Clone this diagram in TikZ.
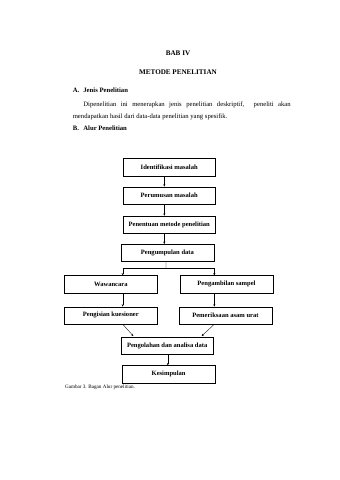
\documentclass[tikz,border=0pt]{standalone}
\usepackage{fontspec}
\setmainfont{Liberation Serif}
\usetikzlibrary{arrows.meta}
\begin{document}
\begin{tikzpicture}[x=1.756pt,y=-1.756pt,
  box/.style={draw,line width=0.6pt,minimum width=163pt,minimum height=30.5pt,inner sep=0pt,
    font=\fontsize{11.5}{13}\selectfont\bfseries},
  arr/.style={line width=0.6pt,-{Stealth[length=4pt,width=3.5pt]}},
  ln/.style={line width=0.6pt},
  body/.style={inner sep=0pt,font=\fontsize{11.7}{13}\selectfont},
  head/.style={inner sep=0pt,font=\fontsize{12.5}{14}\selectfont\bfseries},
  subhead/.style={inner sep=0pt,font=\fontsize{11.7}{13}\selectfont\bfseries}]
\useasboundingbox[fill=white] (0,0) rectangle (339,480);
% headings
\node[head] (bab) at (178,53.3) {BAB IV};
\node[head] (met) at (178,71.7) {METODE PENELITIAN};
\node[subhead,anchor=west] (a) at (72.7,90.7) {A.};
\node[subhead,anchor=west] (at) at (83.3,90.7) {Jenis Penelitian};
\node[body,anchor=west] (p1) at (83.3,105.3) {\makebox[364pt][s]{Dipenelitian ini menerapkan jenis penelitian deskriptif, \ peneliti akan}};
\node[body,anchor=west] (p2) at (72.7,117.3) {mendapatkan hasil dari data-data penelitian yang spesifik.};
\node[subhead,anchor=west] (b) at (72.7,128.3) {B.};
\node[subhead,anchor=west] (bt) at (83.3,128.3) {Alur Penelitian};
% boxes
\node[box] (b1) at (169.2,167.3) {Identifikasi masalah};
\node[box] (b2) at (169.2,195.4) {Perumusan masalah};
\node[box] (b3) at (169.2,224.6) {Penentuan metode penelitian};
\node[box] (b4) at (167.4,252.8) {Pengumpulan data};
\node[box] (b5) at (110.8,284.3) {Wawancara};
\node[box] (b6) at (226.5,284.3) {Pengambilan sampel};
\node[box] (b7) at (110.8,315.4) {Pengisian kuesioner};
\node[box] (b8) at (225.4,315.4) {Pemeriksaan asam urat};
\node[box] (b9) at (167.2,345.6) {Pengolahan dan analisa data};
\node[box] (b10) at (168.6,374.2) {Kesimpulan};
% caption
\node[inner sep=0pt,anchor=west,font=\fontsize{9}{11}\selectfont] (cap) at (65,387.2) {Gambar 3. Bagan Alur penelitian.};
% connectors
\draw[arr] ([xshift=-8.6pt]b1.south) -- ([xshift=-8.6pt]b1.south |- b2.north);
\draw[arr] ([xshift=-8.6pt]b2.south) -- ([xshift=-8.6pt]b2.south |- b3.north);
\draw[arr] ([xshift=-8.6pt]b3.south) -- ([xshift=-8.6pt]b3.south |- b4.north);
\coordinate (j) at (166,268.3);
\coordinate (jl) at (122.7,268.3);
\coordinate (jr) at (214.3,268.3);
\draw[ln] ([xshift=-2.6pt]b4.south) -- (j);
\draw[ln] (jl) -- (jr);
\draw[arr] (jl) -- (jl |- b5.north);
\draw[arr] (jr) -- (jr |- b6.north);
\draw[arr] (jl |- b5.south) -- (jl |- b7.north);
\draw[arr] (jr |- b6.south) -- (jr |- b8.north);
\coordinate (dl) at (133.3,336);
\coordinate (dr) at (201.7,336);
\draw[arr] (jl |- b7.south) -- (dl);
\draw[arr] (jr |- b8.south) -- (dr);
\draw[arr] ([xshift=1pt]b9.south) -- ([xshift=1pt]b9.south |- b10.north);
\end{tikzpicture}
\end{document}
